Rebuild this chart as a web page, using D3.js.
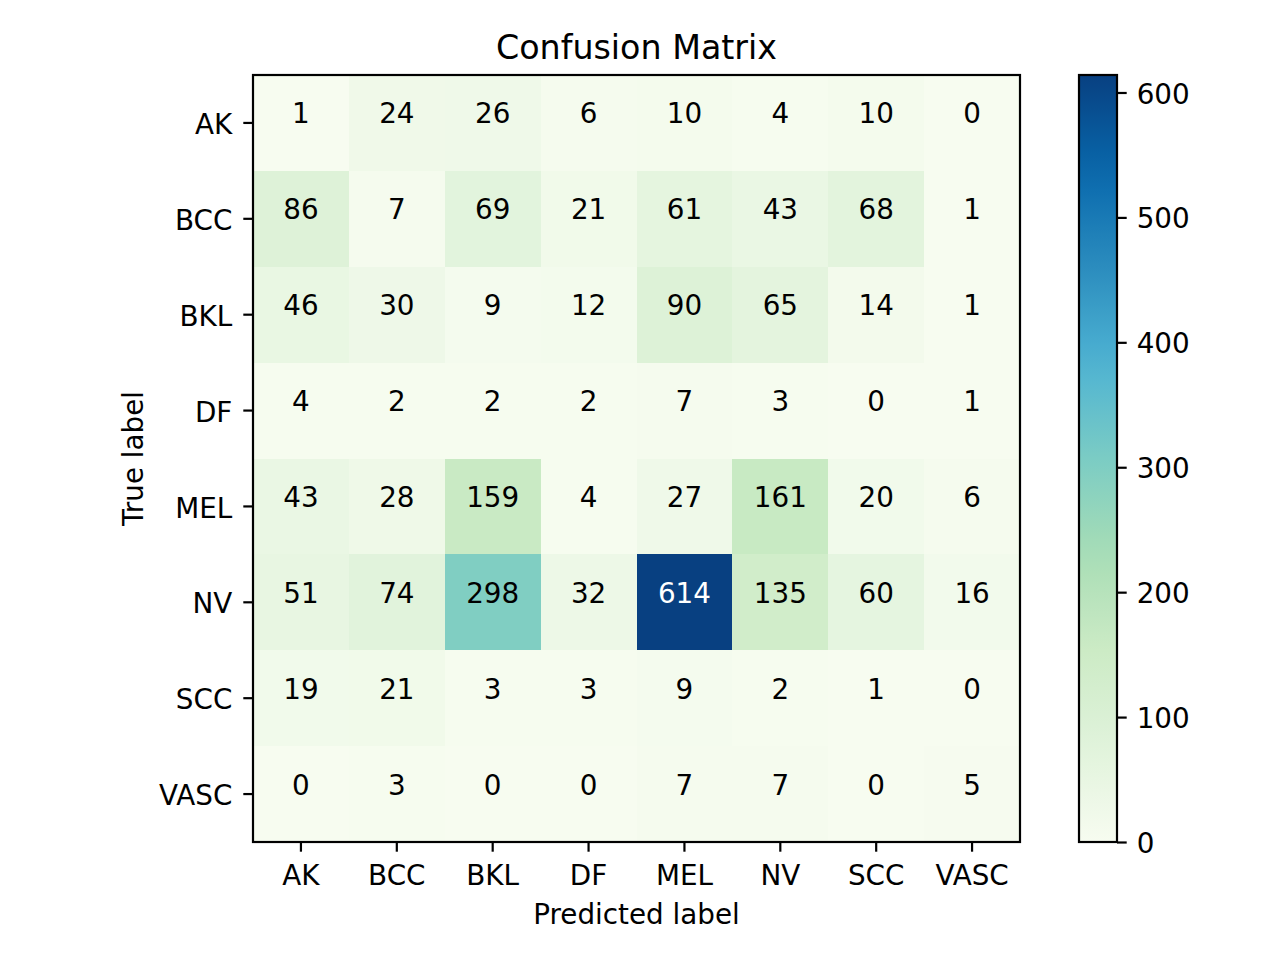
<!DOCTYPE html>
<html>
<head>
<meta charset="utf-8">
<script src="https://cdn.jsdelivr.net/npm/d3@7"></script>
<style>
  body { margin: 0; background: #fff; }
  svg { display: block; font-family: "DejaVu Sans", sans-serif; }
</style>
</head>
<body>
<div id="chart"></div>
<script>
// class labels, same for rows (true) and columns (predicted)
const labels = ["AK", "BCC", "BKL", "DF", "MEL", "NV", "SCC", "VASC"];

// rows = true label, columns = predicted label
const matrix = [
  [1, 24, 26, 6, 10, 4, 10, 0],
  [86, 7, 69, 21, 61, 43, 68, 1],
  [46, 30, 9, 12, 90, 65, 14, 1],
  [4, 2, 2, 2, 7, 3, 0, 1],
  [43, 28, 159, 4, 27, 161, 20, 6],
  [51, 74, 298, 32, 614, 135, 60, 16],
  [19, 21, 3, 3, 9, 2, 1, 0],
  [0, 3, 0, 0, 7, 7, 0, 5]
];

const colorbarTicks = [0, 100, 200, 300, 400, 500, 600];

// GnBu stops (ColorBrewer), linear in RGB like matplotlib
const gnbu = ["#f7fcf0", "#e0f3db", "#ccebc5", "#a8ddb5", "#7bccc4",
              "#4eb3d3", "#2b8cbe", "#0868ac", "#084081"];

const width = 1280;
const height = 960;
const plot = { left: 253, top: 75, right: 1020, bottom: 842 };
const cbar = { left: 1079, right: 1117 };
const fontSize = 27.8;

const vmax = d3.max(matrix.flat());
const vmin = d3.min(matrix.flat());

const color = d3.scaleLinear()
  .domain(gnbu.map((_, i) => vmin + (vmax - vmin) * i / (gnbu.length - 1)))
  .range(gnbu)
  .interpolate(d3.interpolateRgb)
  .clamp(true);

const cells = [];
matrix.forEach((row, i) => row.forEach((v, j) => cells.push({ row: labels[i], col: labels[j], value: v })));

const svg = d3.select("#chart").append("svg")
  .attr("width", width)
  .attr("height", height);

const x = d3.scaleBand().domain(labels).range([plot.left, plot.right]);
const y = d3.scaleBand().domain(labels).range([plot.top, plot.bottom]);

// heatmap cells
svg.append("g").selectAll("rect")
  .data(cells)
  .join("rect")
  .attr("x", d => x(d.col))
  .attr("y", d => y(d.row))
  .attr("width", x.bandwidth() + 0.5)
  .attr("height", y.bandwidth() + 0.5)
  .attr("fill", d => color(d.value))
  .attr("shape-rendering", "crispEdges");

// cell annotations (matplotlib centres the whole text box, so digits sit a bit high)
const thresh = vmax / 2;
svg.append("g").selectAll("text")
  .data(cells)
  .join("text")
  .attr("x", d => x(d.col) + x.bandwidth() / 2)
  .attr("y", d => y(d.row) + y.bandwidth() / 2 - 9)
  .attr("text-anchor", "middle")
  .attr("dominant-baseline", "central")
  .attr("font-size", fontSize)
  .attr("fill", d => d.value > thresh ? "#fff" : "#000")
  .text(d => d.value);

// axes
const tickLen = 9.7;
const lw = 2.2;

const xAxis = svg.append("g")
  .attr("transform", `translate(0,${plot.bottom})`)
  .call(d3.axisBottom(x).tickSize(tickLen).tickPadding(14));
const yAxis = svg.append("g")
  .attr("transform", `translate(${plot.left},0)`)
  .call(d3.axisLeft(y).tickSize(tickLen).tickPadding(11));

[xAxis, yAxis].forEach(g => {
  g.select(".domain").remove();
  g.selectAll(".tick line").attr("stroke", "#000").attr("stroke-width", lw);
  g.selectAll(".tick text")
    .attr("font-size", fontSize)
    .attr("font-family", "DejaVu Sans, sans-serif")
    .attr("fill", "#000");
});
yAxis.selectAll(".tick text").attr("dy", "0.4em");

// frame
svg.append("rect")
  .attr("x", plot.left)
  .attr("y", plot.top)
  .attr("width", plot.right - plot.left)
  .attr("height", plot.bottom - plot.top)
  .attr("fill", "none")
  .attr("stroke", "#000")
  .attr("stroke-width", lw);

// title and axis labels
svg.append("text")
  .attr("x", (plot.left + plot.right) / 2)
  .attr("y", 59)
  .attr("text-anchor", "middle")
  .attr("font-size", 33.3)
  .text("Confusion Matrix");

svg.append("text")
  .attr("x", (plot.left + plot.right) / 2)
  .attr("y", 924)
  .attr("text-anchor", "middle")
  .attr("font-size", fontSize)
  .text("Predicted label");

svg.append("text")
  .attr("transform", `translate(143,${(plot.top + plot.bottom) / 2}) rotate(-90)`)
  .attr("text-anchor", "middle")
  .attr("font-size", fontSize)
  .text("True label");

// colorbar
const cy = d3.scaleLinear().domain([vmin, vmax]).range([plot.bottom, plot.top]);

const defs = svg.append("defs");
const grad = defs.append("linearGradient")
  .attr("id", "cbar-grad")
  .attr("x1", 0).attr("y1", 1)
  .attr("x2", 0).attr("y2", 0);
grad.selectAll("stop")
  .data(d3.range(0, 1.0001, 0.05))
  .join("stop")
  .attr("offset", d => d)
  .attr("stop-color", d => color(vmin + d * (vmax - vmin)));

svg.append("rect")
  .attr("x", cbar.left)
  .attr("y", plot.top)
  .attr("width", cbar.right - cbar.left)
  .attr("height", plot.bottom - plot.top)
  .attr("fill", "url(#cbar-grad)")
  .attr("stroke", "#000")
  .attr("stroke-width", lw);

const cAxis = svg.append("g")
  .attr("transform", `translate(${cbar.right},0)`)
  .call(d3.axisRight(cy).tickValues(colorbarTicks).tickSize(tickLen).tickPadding(10));
cAxis.select(".domain").remove();
cAxis.selectAll(".tick line").attr("stroke", "#000").attr("stroke-width", lw);
cAxis.selectAll(".tick text")
  .attr("font-size", fontSize)
  .attr("font-family", "DejaVu Sans, sans-serif")
  .attr("fill", "#000")
  .attr("dy", "0.38em");
</script>
</body>
</html>
